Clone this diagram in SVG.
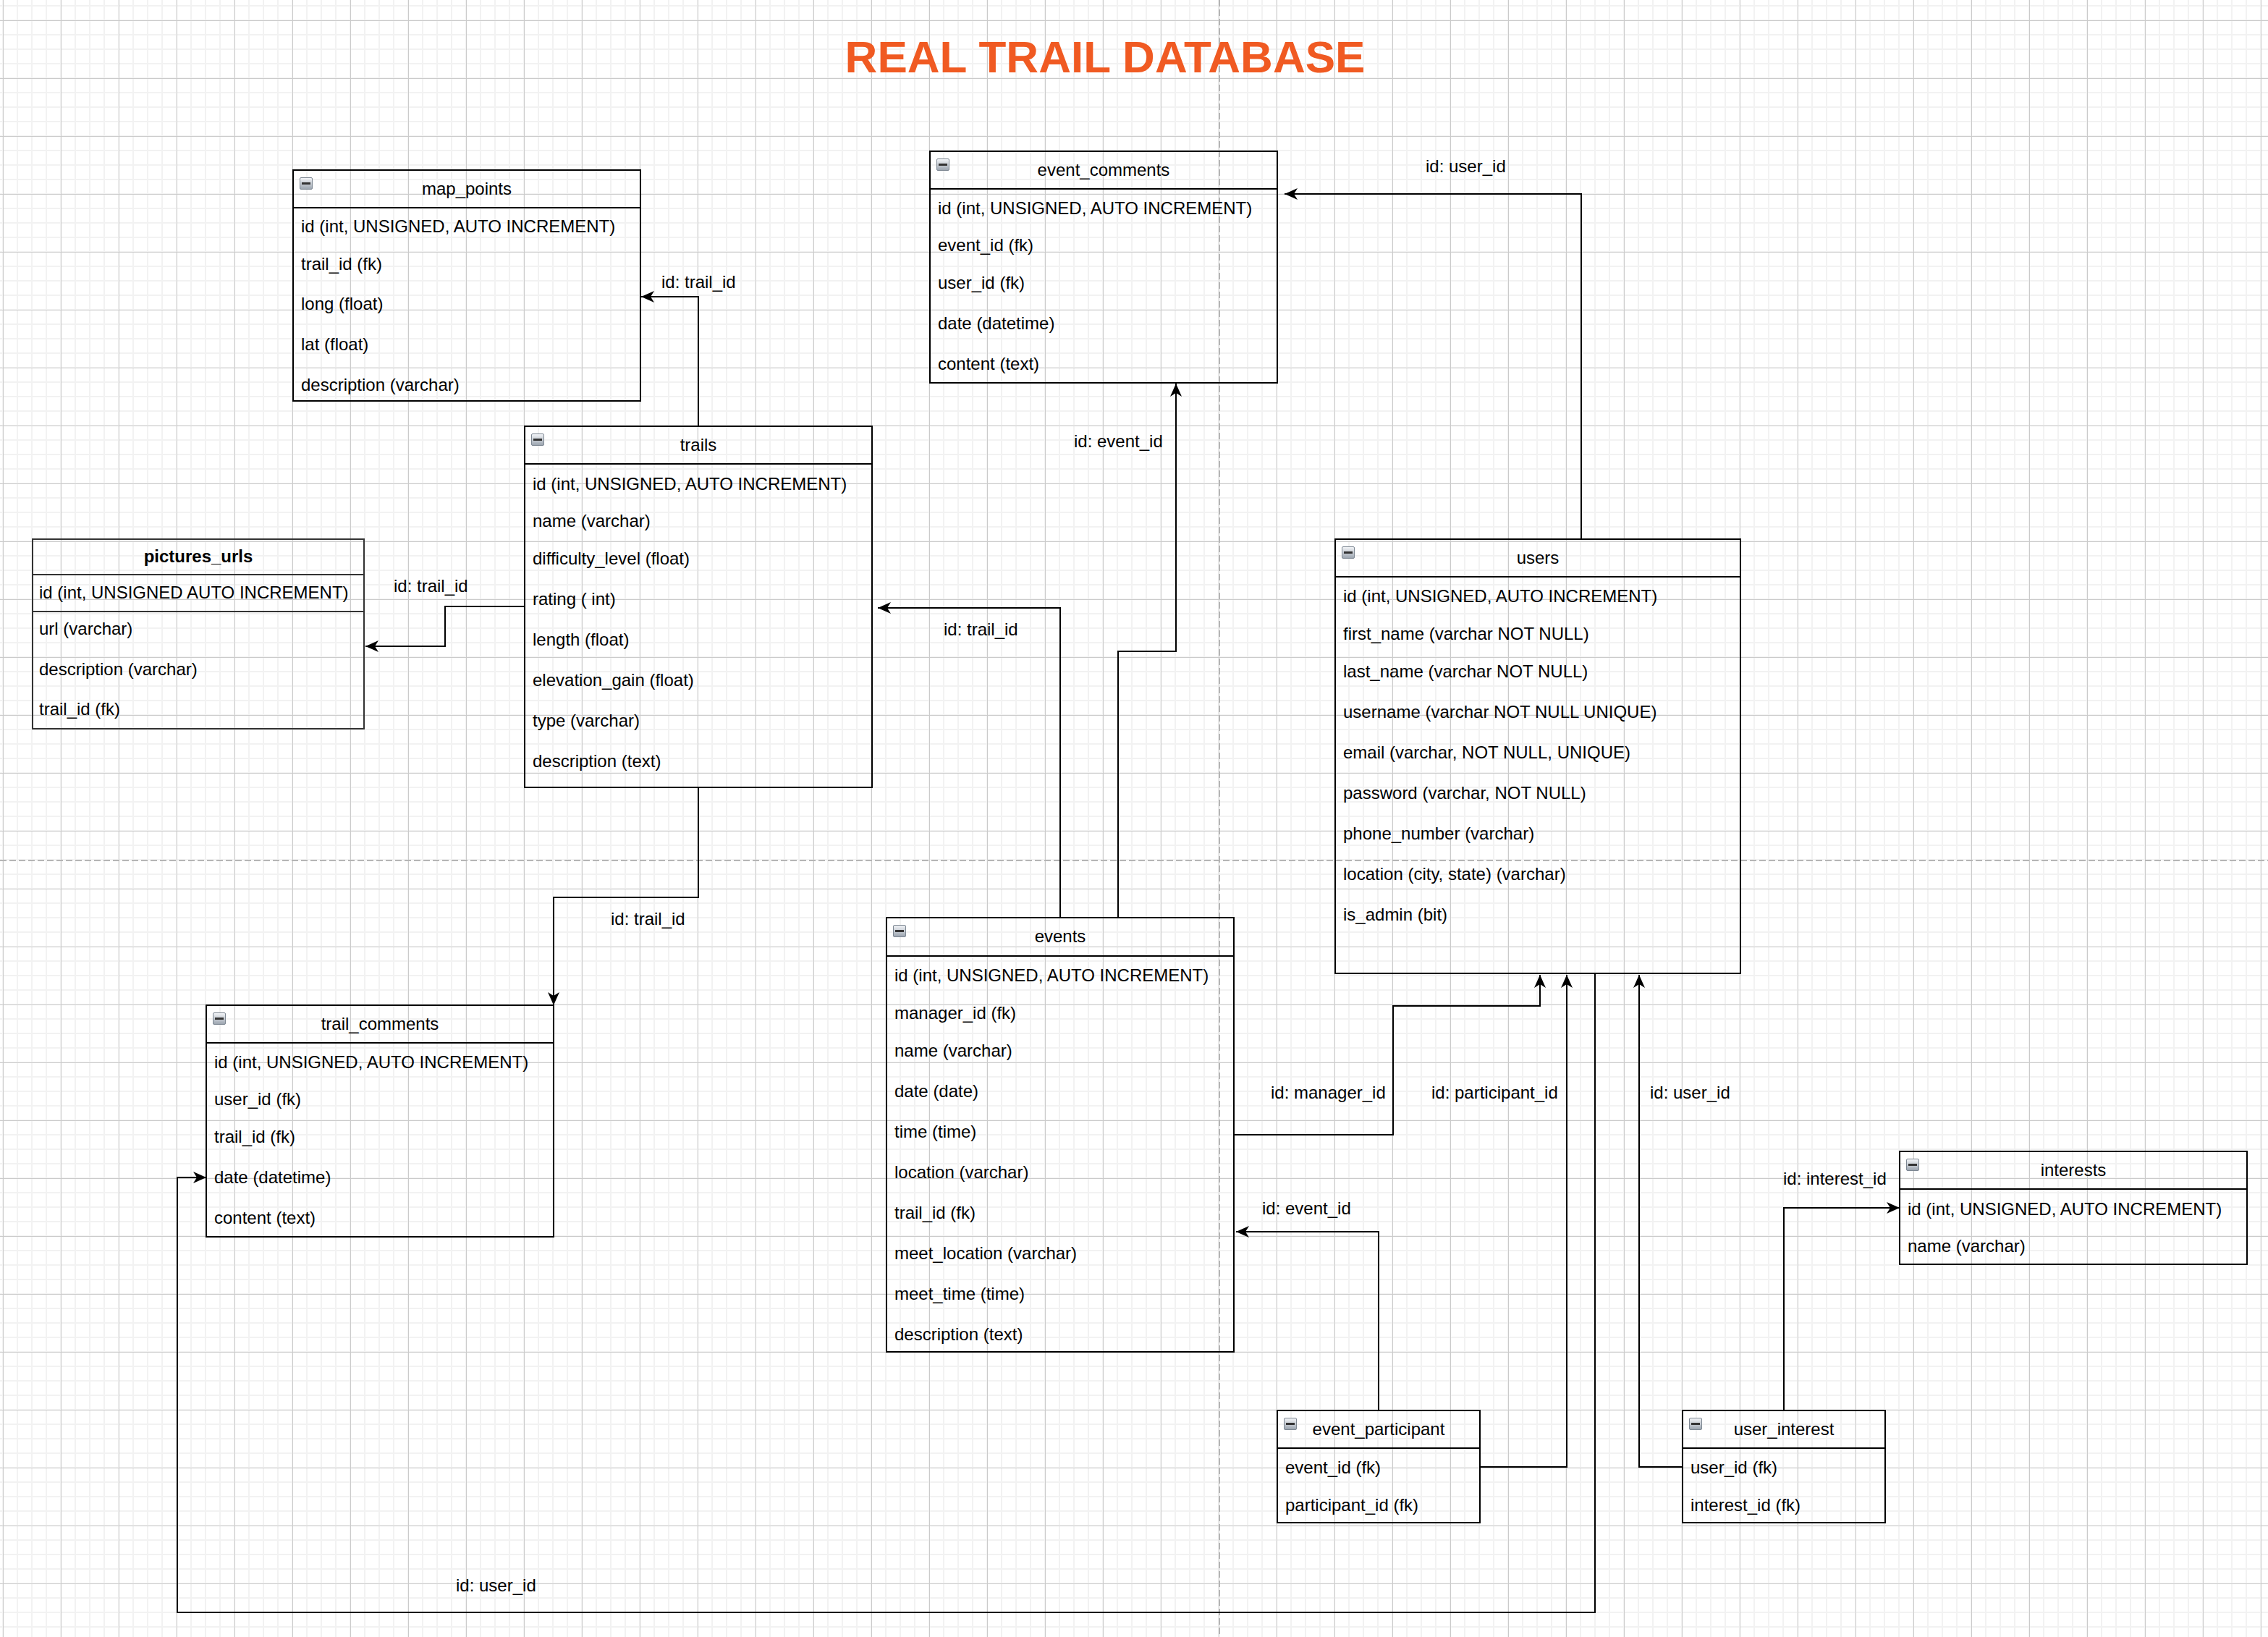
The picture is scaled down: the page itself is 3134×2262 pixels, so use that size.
<svg xmlns="http://www.w3.org/2000/svg" width="3134" height="2262" viewBox="0 0 3134 2262">
<style>
text{font-family:"Liberation Sans",Arial,Helvetica,sans-serif;font-size:24px;fill:#000}
.c{text-anchor:middle}
.b{fill:none;stroke:#000;stroke-width:2}
.b2{fill:none;stroke:#333;stroke-width:2}
.e{fill:none;stroke:#000;stroke-width:2;marker-end:url(#arr)}
.pg{stroke:#b5b5b5;stroke-width:2;stroke-dasharray:9 4;fill:none}
.title{font-size:62px;font-weight:bold;fill:#F05A22}
.bold{font-weight:bold}
</style>
<defs>
<pattern id="minor" width="20" height="20" patternUnits="userSpaceOnUse" x="3" y="7">
<rect x="0" y="0" width="2" height="20" fill="#f2f2f2"/>
<rect x="0" y="0" width="20" height="2" fill="#f2f2f2"/>
</pattern>
<pattern id="major" width="80" height="80" patternUnits="userSpaceOnUse" x="4" y="28">
<rect x="0" y="0" width="1" height="80" fill="#cbcbcb"/>
<rect x="0" y="0" width="80" height="1" fill="#cbcbcb"/>
</pattern>
<linearGradient id="mg" x1="0" y1="0" x2="0" y2="1">
<stop offset="0" stop-color="#f4f6f9"/>
<stop offset="1" stop-color="#9aa3ae"/>
</linearGradient>
<symbol id="minus" viewBox="0 0 18 17">
<rect x="0.5" y="0.5" width="17" height="16" rx="1.5" fill="url(#mg)" stroke="#7d8792"/>
<rect x="3" y="7" width="12" height="3" fill="#333"/>
</symbol>
<marker id="arr" markerUnits="userSpaceOnUse" markerWidth="20" markerHeight="18" viewBox="0 0 20 18" refX="18" refY="9" orient="auto">
<path d="M0,1 L18,9 L0,17 L5,9 Z" fill="#000"/>
</marker>
</defs>

<g id="background">
<rect x="0" y="0" width="3134" height="2262" fill="#fff"/>
<rect x="0" y="0" width="3134" height="2262" fill="url(#minor)"/>
<rect x="0" y="0" width="3134" height="2262" fill="url(#major)"/>
<line class="pg" x1="1685" y1="0" x2="1685" y2="2262"/>
<line class="pg" x1="0" y1="1189" x2="3134" y2="1189"/>
</g>

<g id="title">
<text class="title c" x="1527" y="100">REAL TRAIL DATABASE</text>
</g>

<g id="connectors">
<path class="e" d="M965,589 V410 H886"/>
<text x="914" y="398">id: trail_id</text>
<path class="e" d="M725,838 H615 V893 H505"/>
<text x="544" y="818">id: trail_id</text>
<path class="e" d="M965,1088 V1240 H765 V1389"/>
<text x="844" y="1278">id: trail_id</text>
<path class="e" d="M1465,1268 V840 H1213"/>
<text x="1304" y="878">id: trail_id</text>
<path class="e" d="M1545,1268 V900 H1625 V530"/>
<text x="1484" y="618">id: event_id</text>
<path class="e" d="M2185,745 V268 H1775"/>
<text x="1970" y="238">id: user_id</text>
<path class="e" d="M1705,1568 H1925 V1390 H2128 V1347"/>
<text x="1756" y="1518">id: manager_id</text>
<path class="e" d="M2045,2027 H2165 V1347"/>
<text x="1978" y="1518">id: participant_id</text>
<path class="e" d="M1905,1949 V1702 H1708"/>
<text x="1744" y="1678">id: event_id</text>
<path class="e" d="M2325,2027 H2265 V1347"/>
<text x="2280" y="1518">id: user_id</text>
<path class="e" d="M2465,1949 V1669 H2625"/>
<text x="2464" y="1637">id: interest_id</text>
<path class="e" d="M2204,1345 V2228 H245 V1627 H285"/>
<text x="630" y="2199">id: user_id</text>
</g>

<g id="map_points">
<rect class="b" x="405" y="235" width="480" height="319"/>
<line class="b" x1="405" y1="287" x2="885" y2="287"/>
<use href="#minus" x="414" y="245" width="18" height="17"/>
<text class="c" x="645" y="269">map_points</text>
<text x="416" y="321">id (int, UNSIGNED, AUTO INCREMENT)</text>
<text x="416" y="373">trail_id (fk)</text>
<text x="416" y="428">long (float)</text>
<text x="416" y="484">lat (float)</text>
<text x="416" y="540">description (varchar)</text>
</g>

<g id="trails">
<rect class="b" x="725" y="589" width="480" height="499"/>
<line class="b" x1="725" y1="641" x2="1205" y2="641"/>
<use href="#minus" x="734" y="599" width="18" height="17"/>
<text class="c" x="965" y="623">trails</text>
<text x="736" y="677">id (int, UNSIGNED, AUTO INCREMENT)</text>
<text x="736" y="728">name (varchar)</text>
<text x="736" y="780">difficulty_level (float)</text>
<text x="736" y="836">rating ( int)</text>
<text x="736" y="892">length (float)</text>
<text x="736" y="948">elevation_gain (float)</text>
<text x="736" y="1004">type (varchar)</text>
<text x="736" y="1060">description (text)</text>
</g>

<g id="pictures_urls">
<rect class="b2" x="45" y="745" width="458" height="262"/>
<line class="b2" x1="45" y1="794" x2="503" y2="794"/>
<line class="b2" x1="45" y1="845" x2="503" y2="845"/>
<text class="c bold" x="274" y="777">pictures_urls</text>
<text x="54" y="827">id (int, UNSIGNED AUTO INCREMENT)</text>
<text x="54" y="877">url (varchar)</text>
<text x="54" y="933">description (varchar)</text>
<text x="54" y="988">trail_id (fk)</text>
</g>

<g id="event_comments">
<rect class="b" x="1285" y="209" width="480" height="320"/>
<line class="b" x1="1285" y1="261" x2="1765" y2="261"/>
<use href="#minus" x="1294" y="219" width="18" height="17"/>
<text class="c" x="1525" y="243">event_comments</text>
<text x="1296" y="296">id (int, UNSIGNED, AUTO INCREMENT)</text>
<text x="1296" y="347">event_id (fk)</text>
<text x="1296" y="399">user_id (fk)</text>
<text x="1296" y="455">date (datetime)</text>
<text x="1296" y="511">content (text)</text>
</g>

<g id="users">
<rect class="b" x="1845" y="745" width="560" height="600"/>
<line class="b" x1="1845" y1="797" x2="2405" y2="797"/>
<use href="#minus" x="1854" y="755" width="18" height="17"/>
<text class="c" x="2125" y="779">users</text>
<text x="1856" y="832">id (int, UNSIGNED, AUTO INCREMENT)</text>
<text x="1856" y="884">first_name (varchar NOT NULL)</text>
<text x="1856" y="936">last_name (varchar NOT NULL)</text>
<text x="1856" y="992">username (varchar NOT NULL UNIQUE)</text>
<text x="1856" y="1048">email (varchar, NOT NULL, UNIQUE)</text>
<text x="1856" y="1104">password (varchar, NOT NULL)</text>
<text x="1856" y="1160">phone_number (varchar)</text>
<text x="1856" y="1216">location (city, state) (varchar)</text>
<text x="1856" y="1272">is_admin (bit)</text>
</g>

<g id="events">
<rect class="b" x="1225" y="1268" width="480" height="600"/>
<line class="b" x1="1225" y1="1321" x2="1705" y2="1321"/>
<use href="#minus" x="1234" y="1278" width="18" height="17"/>
<text class="c" x="1465" y="1302">events</text>
<text x="1236" y="1356">id (int, UNSIGNED, AUTO INCREMENT)</text>
<text x="1236" y="1408">manager_id (fk)</text>
<text x="1236" y="1460">name (varchar)</text>
<text x="1236" y="1516">date (date)</text>
<text x="1236" y="1572">time (time)</text>
<text x="1236" y="1628">location (varchar)</text>
<text x="1236" y="1684">trail_id (fk)</text>
<text x="1236" y="1740">meet_location (varchar)</text>
<text x="1236" y="1796">meet_time (time)</text>
<text x="1236" y="1852">description (text)</text>
</g>

<g id="trail_comments">
<rect class="b" x="285" y="1389" width="480" height="320"/>
<line class="b" x1="285" y1="1441" x2="765" y2="1441"/>
<use href="#minus" x="294" y="1399" width="18" height="17"/>
<text class="c" x="525" y="1423">trail_comments</text>
<text x="296" y="1476">id (int, UNSIGNED, AUTO INCREMENT)</text>
<text x="296" y="1527">user_id (fk)</text>
<text x="296" y="1579">trail_id (fk)</text>
<text x="296" y="1635">date (datetime)</text>
<text x="296" y="1691">content (text)</text>
</g>

<g id="interests">
<rect class="b" x="2625" y="1591" width="480" height="156"/>
<line class="b" x1="2625" y1="1643" x2="3105" y2="1643"/>
<use href="#minus" x="2634" y="1601" width="18" height="17"/>
<text class="c" x="2865" y="1625">interests</text>
<text x="2636" y="1679">id (int, UNSIGNED, AUTO INCREMENT)</text>
<text x="2636" y="1730">name (varchar)</text>
</g>

<g id="event_participant">
<rect class="b" x="1765" y="1949" width="280" height="155"/>
<line class="b" x1="1765" y1="2001" x2="2045" y2="2001"/>
<use href="#minus" x="1774" y="1959" width="18" height="17"/>
<text class="c" x="1905" y="1983">event_participant</text>
<text x="1776" y="2036">event_id (fk)</text>
<text x="1776" y="2088">participant_id (fk)</text>
</g>

<g id="user_interest">
<rect class="b" x="2325" y="1949" width="280" height="155"/>
<line class="b" x1="2325" y1="2001" x2="2605" y2="2001"/>
<use href="#minus" x="2334" y="1959" width="18" height="17"/>
<text class="c" x="2465" y="1983">user_interest</text>
<text x="2336" y="2036">user_id (fk)</text>
<text x="2336" y="2088">interest_id (fk)</text>
</g>
</svg>
